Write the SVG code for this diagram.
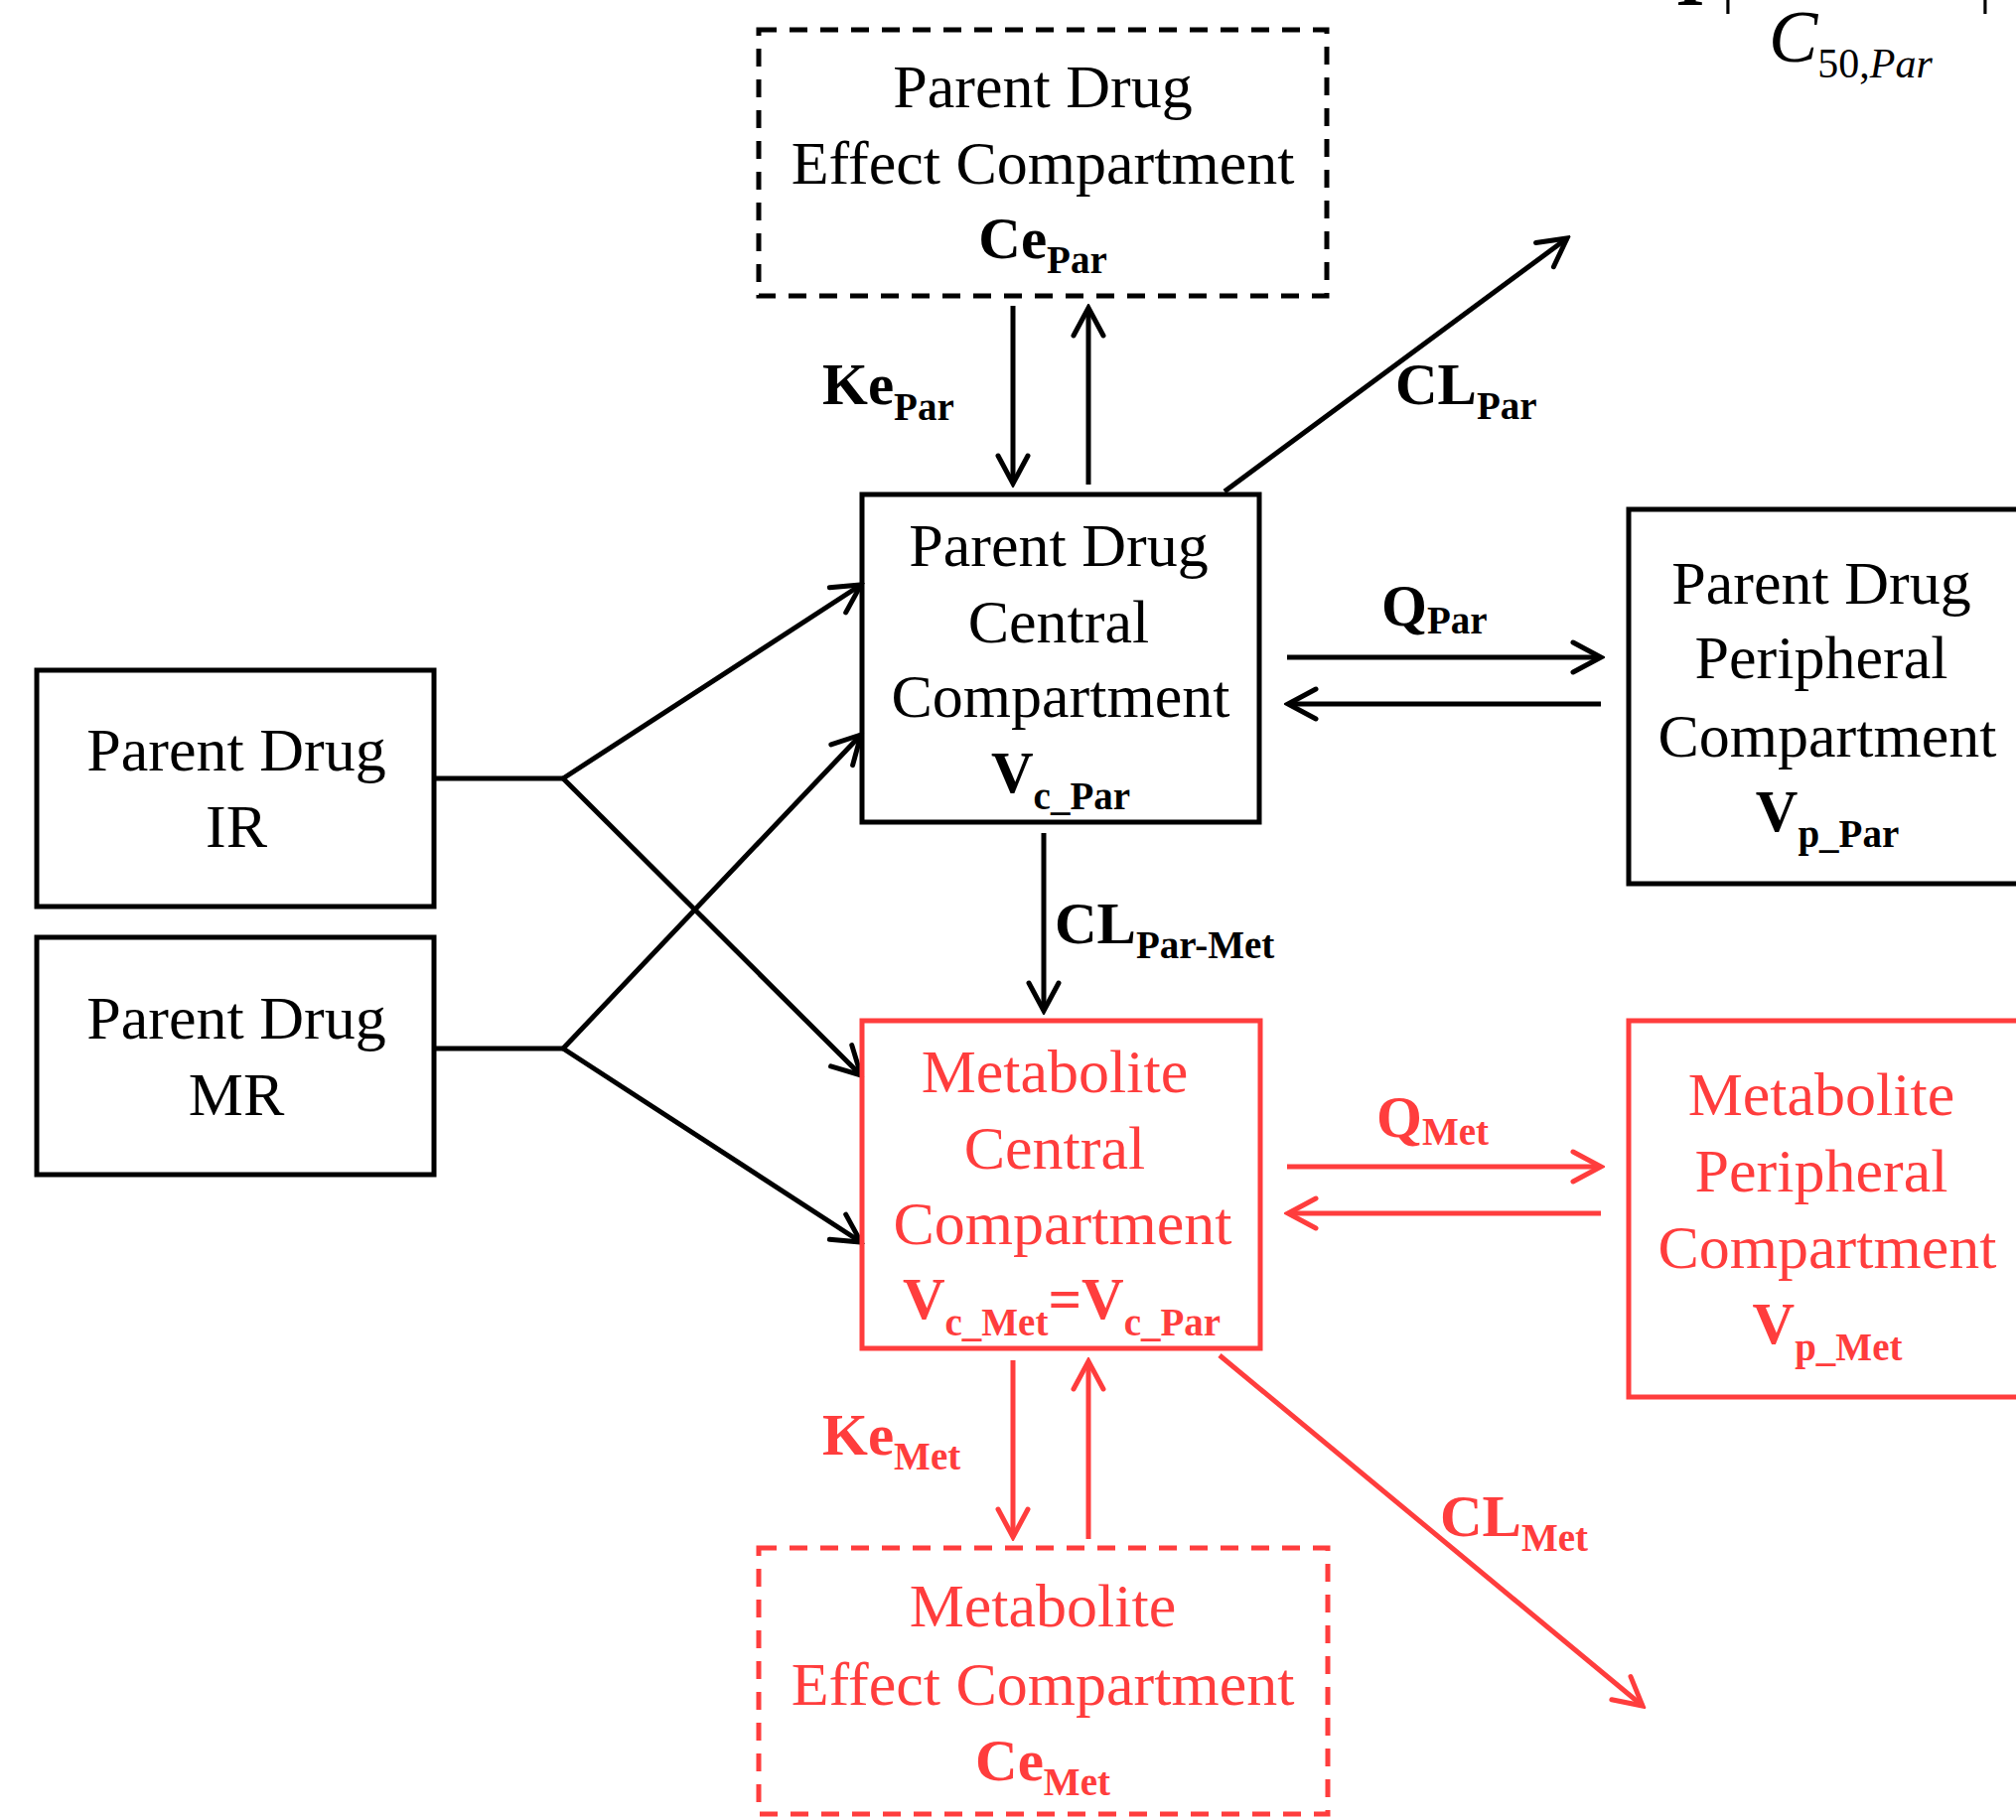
<svg xmlns="http://www.w3.org/2000/svg" width="2030" height="1833" viewBox="0 0 2030 1833">
<style>
  .box{fill:none;stroke:#000;stroke-width:5}
  .rbox{fill:none;stroke:#ff3d3d;stroke-width:5}
  .dash{stroke-dasharray:18 13}
  .t{font-family:"Liberation Serif","Times New Roman",serif;font-size:62px;fill:#000;text-anchor:middle}
  .b{font-family:"Liberation Serif","Times New Roman",serif;font-size:59px;font-weight:bold;fill:#000}
  .r{fill:#ff3d3d}
  .m{text-anchor:middle}
  .s{font-size:39px}
  .ln{fill:none;stroke:#000;stroke-width:5}
  .rln{fill:none;stroke:#ff3d3d;stroke-width:5}
  .ak{marker-end:url(#ah)}
  .ar{marker-end:url(#ahr)}
</style>
<defs>
  <marker id="ah" markerUnits="userSpaceOnUse" viewBox="-34 -20 38 40" markerWidth="38" markerHeight="40" refX="0" refY="0" orient="auto">
    <path d="M-28,-15 L0,0 L-28,15" fill="none" stroke="#000" stroke-width="5" stroke-linecap="round" stroke-linejoin="miter"/>
  </marker>
  <marker id="ahr" markerUnits="userSpaceOnUse" viewBox="-34 -20 38 40" markerWidth="38" markerHeight="40" refX="0" refY="0" orient="auto">
    <path d="M-28,-15 L0,0 L-28,15" fill="none" stroke="#ff3d3d" stroke-width="5" stroke-linecap="round" stroke-linejoin="miter"/>
  </marker>
</defs>
<rect width="2030" height="1833" fill="#fff"/>

<!-- partial formula at top right -->
<g id="formula">
  <text x="1702" y="5" font-family="Liberation Serif, serif" font-size="74" font-weight="bold" text-anchor="middle">I</text>
  <text x="1740" y="0" font-family="Liberation Serif, serif" font-size="64" text-anchor="middle">|</text>
  <text x="1999" y="0" font-family="Liberation Serif, serif" font-size="64" text-anchor="middle">|</text>
  <text x="1781" y="62" font-family="Liberation Serif, serif" font-size="74" font-style="italic">C<tspan font-size="42" font-style="normal" dy="16">50,</tspan><tspan font-size="42" font-style="italic">Par</tspan></text>
</g>

<g id="connectors">
  <!-- Ke Par -->
  <line class="ln ak" x1="1020" y1="308" x2="1020" y2="487"/>
  <line class="ln ak" x1="1096" y1="488" x2="1096" y2="310"/>
  <!-- CL Par -->
  <line class="ln ak" x1="1233" y1="495" x2="1578" y2="240"/>
  <!-- Q Par -->
  <line class="ln ak" x1="1296" y1="662" x2="1612" y2="662"/>
  <line class="ln ak" x1="1612" y1="709" x2="1297" y2="709"/>
  <!-- CL Par-Met -->
  <line class="ln ak" x1="1051" y1="839" x2="1051" y2="1018"/>
  <!-- IR -->
  <polyline class="ln" points="437,784 567,784"/>
  <line class="ln ak" x1="567" y1="784" x2="867" y2="589"/>
  <line class="ln ak" x1="567" y1="784" x2="867" y2="1083"/>
  <!-- MR -->
  <polyline class="ln" points="437,1056 567,1056"/>
  <line class="ln ak" x1="567" y1="1056" x2="867" y2="740"/>
  <line class="ln ak" x1="567" y1="1056" x2="867" y2="1251"/>
  <!-- Q Met -->
  <line class="rln ar" x1="1296" y1="1175" x2="1612" y2="1175"/>
  <line class="rln ar" x1="1612" y1="1222" x2="1297" y2="1222"/>
  <!-- Ke Met -->
  <line class="rln ar" x1="1020" y1="1370" x2="1020" y2="1548"/>
  <line class="rln ar" x1="1096" y1="1550" x2="1096" y2="1371"/>
  <!-- CL Met -->
  <line class="rln ar" x1="1228" y1="1365" x2="1654" y2="1718"/>

  <!-- labels -->
  <text class="b" x="828" y="407">Ke<tspan class="s" dy="16">Par</tspan></text>
  <text class="b" x="1405" y="407">CL<tspan class="s" dy="15">Par</tspan></text>
  <text class="b" x="1391" y="630">Q<tspan class="s" dy="8">Par</tspan></text>
  <text class="b" x="1062" y="950">CL<tspan class="s" dy="15">Par-Met</tspan></text>
  <text class="b r" x="1386" y="1145">Q<tspan class="s" dy="8">Met</tspan></text>
  <text class="b r" x="828" y="1465">Ke<tspan class="s" dy="15">Met</tspan></text>
  <text class="b r" x="1450" y="1547">CL<tspan class="s" dy="15">Met</tspan></text>
</g>

<g id="parent-effect">
  <rect class="box dash" x="764" y="30" width="572" height="268"/>
  <text class="t" x="1050" y="108">Parent Drug</text>
  <text class="t" x="1050" y="185">Effect Compartment</text>
  <text class="b m" x="1050" y="260">Ce<tspan class="s" dy="15">Par</tspan></text>
</g>

<g id="parent-central">
  <rect class="box" x="868" y="498" width="400" height="330"/>
  <text class="t" x="1066" y="570">Parent Drug</text>
  <text class="t" x="1066" y="647">Central</text>
  <text class="t" x="1068" y="722">Compartment</text>
  <text class="b m" x="1068" y="798">V<tspan class="s" dy="17">c_Par</tspan></text>
</g>

<g id="parent-peripheral">
  <rect class="box" x="1640" y="513" width="420" height="377"/>
  <text class="t" x="1834" y="608">Parent Drug</text>
  <text class="t" x="1834" y="683">Peripheral</text>
  <text class="t" x="1840" y="762">Compartment</text>
  <text class="b m" x="1840" y="837">V<tspan class="s" dy="16">p_Par</tspan></text>
</g>

<g id="parent-ir">
  <rect class="box" x="37" y="675" width="400" height="238"/>
  <text class="t" x="238" y="776">Parent Drug</text>
  <text class="t" x="238" y="853">IR</text>
</g>

<g id="parent-mr">
  <rect class="box" x="37" y="944" width="400" height="239"/>
  <text class="t" x="238" y="1046">Parent Drug</text>
  <text class="t" x="238" y="1123">MR</text>
</g>

<g id="met-central">
  <rect class="rbox" x="868" y="1028" width="401" height="330"/>
  <text class="t r" x="1062" y="1100">Metabolite</text>
  <text class="t r" x="1062" y="1177">Central</text>
  <text class="t r" x="1070" y="1253">Compartment</text>
  <text class="b r m" x="1069" y="1328">V<tspan class="s" dy="17">c_Met</tspan><tspan dy="-17">=V</tspan><tspan class="s" dy="17">c_Par</tspan></text>
</g>

<g id="met-peripheral">
  <rect class="rbox" x="1640" y="1028" width="420" height="379"/>
  <text class="t r" x="1834" y="1123">Metabolite</text>
  <text class="t r" x="1834" y="1200">Peripheral</text>
  <text class="t r" x="1840" y="1277">Compartment</text>
  <text class="b r m" x="1840" y="1353">V<tspan class="s" dy="17">p_Met</tspan></text>
</g>

<g id="met-effect">
  <rect class="rbox dash" x="764" y="1559" width="573" height="268"/>
  <text class="t r" x="1050" y="1638">Metabolite</text>
  <text class="t r" x="1050" y="1717">Effect Compartment</text>
  <text class="b r m" x="1050" y="1793">Ce<tspan class="s" dy="15">Met</tspan></text>
</g>
</svg>
